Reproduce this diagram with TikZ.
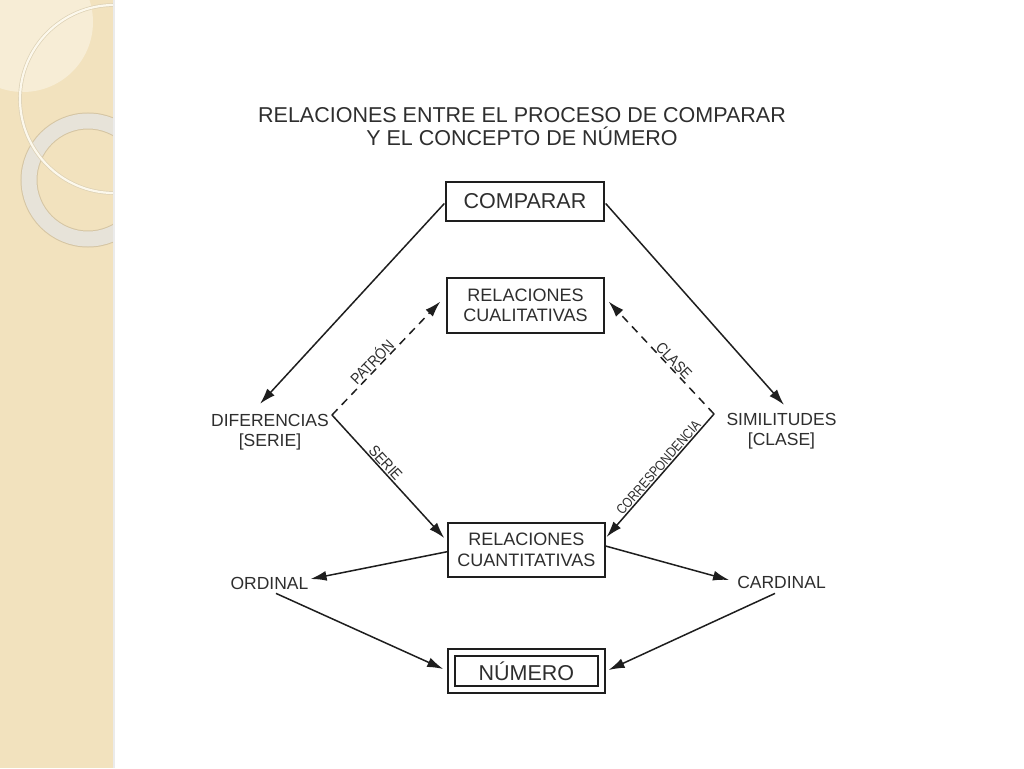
\documentclass[tikz,border=0pt]{standalone}
\usepackage{fontspec}
\setmainfont{Liberation Sans}
\usetikzlibrary{arrows.meta,calc}
\definecolor{stripbg}{HTML}{F2E2BE}
\definecolor{striplight}{HTML}{F7EDD6}
\definecolor{ringc}{HTML}{E7E3D9}
\definecolor{ringedge}{HTML}{D5C5A3}
\definecolor{thinc}{HTML}{FCF8EC}
\definecolor{ink}{HTML}{1E1E1E}
\definecolor{txt}{HTML}{2E2E2E}
\newcommand{\narrow}[1]{\scalebox{0.88}[1]{#1}}
\begin{document}
\begin{tikzpicture}[x=1pt,y=-1pt,
  box/.style={draw=ink,line width=1.3pt,inner sep=0pt,align=center,text=txt,font=\fontsize{18}{20.5}\selectfont},
  lbl/.style={inner sep=0pt,align=center,text=txt,font=\fontsize{17.5}{20}\selectfont},
  big/.style={font=\fontsize{21.5}{23}\selectfont},
  arr/.style={draw=ink,line width=1.5pt,-{Latex[length=16pt,width=10pt]}},
  darr/.style={arr,dash pattern=on 8pt off 6pt},
  elbl/.style={anchor=south,inner sep=1pt,text=txt,font=\fontsize{15.5}{17}\selectfont}]
\useasboundingbox (0,0) rectangle (1024,768);
\fill[white] (0,0) rectangle (1024,768);
% decorative strip
\begin{scope}
\clip (0,0) rectangle (113,768);
\fill[stripbg] (0,0) rectangle (113,768);
\fill[striplight] (23,22) circle[radius=70];
\draw[ringedge,line width=17pt] (88,180) circle[radius=59];
\draw[ringc,line width=15pt] (88,180) circle[radius=59];
\draw[ringedge!80,line width=3.6pt] (114,99) circle[radius=94];
\draw[thinc,line width=2.2pt] (114,99) circle[radius=94];
\end{scope}
\fill[black!8] (113,0) rectangle (115,768);
% nodes
\node[lbl,big] (title) at (522,126.5) {RELACIONES ENTRE EL PROCESO DE COMPARAR\\Y EL CONCEPTO DE NÚMERO};
\node[box,big,minimum width=158pt,minimum height=39pt] (comp) at (525,201.5) {COMPARAR};
\node[box,minimum width=157pt,minimum height=55pt] (cual) at (525.5,305.5) {RELACIONES\\CUALITATIVAS};
\node[box,minimum width=157pt,minimum height=54pt] (cuant) at (526.4,550) {RELACIONES\\CUANTITATIVAS};
\node[box,minimum width=157pt,minimum height=44pt] (num) at (526.4,671) {};
\node[box,big,minimum width=143pt,minimum height=30pt] (numin) at (num.center) {NÚMERO};
\node[lbl] (dif) at (270,432) {DIFERENCIAS\\{[SERIE]}};
\node[lbl] (sim) at (781.5,431) {SIMILITUDES\\{[CLASE]}};
\node[lbl] (ord) at (269.5,583) {ORDINAL};
\node[lbl] (card) at (781.5,582) {CARDINAL};
\coordinate (dl) at (332,415);
\coordinate (dr) at (714,414);
% connectors
\draw[arr] ($(comp.west)+(-1,2)$) -- ($(dif.north)+(-10,-10)$);
\draw[arr] ($(comp.east)+(1,2)$) -- ($(sim.north)+(2.5,-8)$);
\draw[darr] (dl) -- ($(cual.west)+(-6,-4)$) node[elbl,pos=0.42,rotate=46]{\narrow{PATRÓN}};
\draw[arr] (dl) -- ($(cuant.west)+(-3,-12)$) node[elbl,pos=0.43,rotate=-47.5]{\narrow{SERIE}};
\draw[darr] (dr) -- ($(cual.east)+(4,-4)$) node[elbl,pos=0.43,rotate=-46.7]{\narrow{CLASE}};
\draw[arr] (dr) -- ($(cuant.east)+(1,-13)$) node[elbl,pos=0.47,rotate=49,font=\fontsize{14}{16}\selectfont]{\scalebox{0.84}[1]{CORRESPONDENCIA}};
\draw[arr] ($(cuant.west)+(0,1.7)$) -- ($(ord.east)+(2,-4)$);
\draw[arr] ($(cuant.east)+(0,-4)$) -- ($(card.west)+(-8,-2)$);
\draw[arr] ($(ord.south)+(6.5,4)$) -- ($(num.west)+(-4,-2)$);
\draw[arr] ($(card.south)+(-6.5,5)$) -- ($(num.east)+(3,-1)$);
\end{tikzpicture}
\end{document}
